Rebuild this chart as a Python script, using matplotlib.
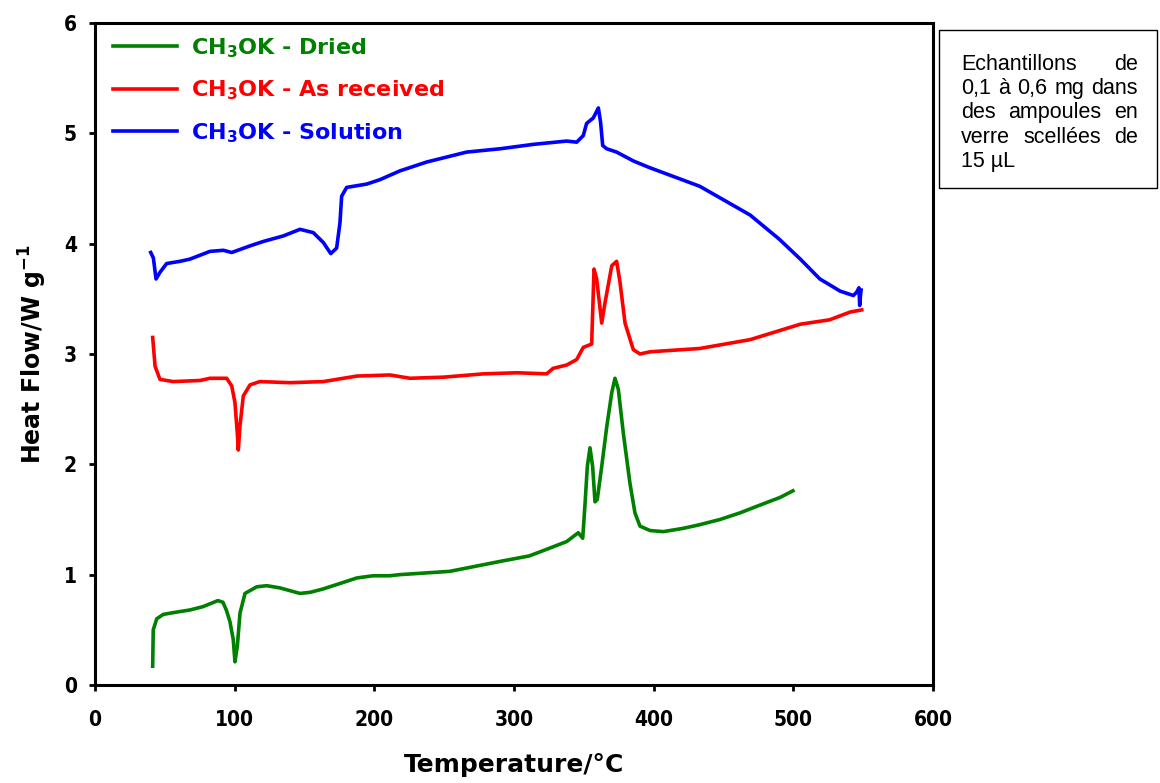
import matplotlib
matplotlib.use('Agg')
import matplotlib.pyplot as plt
from matplotlib.patches import Rectangle
from matplotlib import font_manager as fm

# ---------------- data ----------------
dried_T = [41.3, 41.7, 44.2, 48.9, 58, 68, 77.3, 88, 91.6, 94, 96.6, 99, 100.2, 101.9, 103.8,
           107.4, 115.8, 123, 132.4, 146.8, 154, 163.2, 175.4, 187.4, 199, 211, 218, 254, 290,
           311, 323.4, 337.7, 346, 349.2, 350.8, 352.5, 354.4, 356.3, 358, 359.6, 362.8, 366.4,
           370, 372.3, 374.7, 378.3, 383, 386.6, 390.2, 397.4, 406.9, 421.2, 432, 447.5, 461.8,
           476, 490.5, 499.7]
dried_V = [0.17, 0.50, 0.60, 0.64, 0.66, 0.68, 0.71, 0.765, 0.75, 0.68, 0.575, 0.41, 0.21, 0.35,
           0.65, 0.83, 0.89, 0.90, 0.88, 0.83, 0.84, 0.87, 0.92, 0.97, 0.99, 0.99, 1.00, 1.03,
           1.12, 1.17, 1.23, 1.30, 1.38, 1.33, 1.63, 1.98, 2.15, 1.98, 1.66, 1.68, 1.98, 2.34,
           2.65, 2.78, 2.68, 2.28, 1.83, 1.56, 1.44, 1.40, 1.39, 1.42, 1.45, 1.50, 1.56, 1.63,
           1.70, 1.76]

asrec_T = [41.3, 43, 46.5, 56, 75.2, 82.3, 94.3, 97.9, 100.2, 101.9, 102.6, 103.8, 106.2, 111,
           118, 139.6, 163.5, 187.4, 211.2, 225.5, 249.4, 278, 302, 323.4, 328, 337.7, 344.9,
           349.6, 355.6, 357.3, 359.2, 362.8, 365.1, 370, 373.5, 375.9, 379.5, 385.4, 390.2,
           397.4, 433, 469, 505, 526, 540.6, 549]
asrec_V = [3.15, 2.89, 2.77, 2.75, 2.76, 2.78, 2.78, 2.71, 2.56, 2.28, 2.13, 2.35, 2.62, 2.72,
           2.75, 2.74, 2.75, 2.80, 2.81, 2.78, 2.79, 2.82, 2.83, 2.82, 2.87, 2.90, 2.95, 3.06,
           3.09, 3.77, 3.68, 3.28, 3.46, 3.80, 3.84, 3.65, 3.28, 3.04, 3.00, 3.02, 3.05, 3.13,
           3.27, 3.31, 3.38, 3.40]

sol_T = [39.9, 41.8, 43.7, 46.5, 51.3, 60.9, 68, 82.3, 91.9, 97.9, 111, 120.5, 134.8, 146.8,
         156.3, 163.5, 168.8, 173, 175.4, 176.6, 180.2, 194.5, 204, 218.4, 237.5, 266.1, 290,
         313.8, 337.7, 344.9, 349.6, 352, 356.8, 360.4, 362, 363.5, 366.4, 373.5, 385.4, 396.9,
         433, 469, 490, 505, 519, 533.5, 543, 545.3, 547, 547.5, 548, 548.5]
sol_V = [3.92, 3.87, 3.68, 3.74, 3.82, 3.84, 3.86, 3.93, 3.94, 3.92, 3.98, 4.02, 4.07, 4.13,
         4.10, 4.01, 3.91, 3.96, 4.19, 4.43, 4.51, 4.54, 4.58, 4.66, 4.74, 4.83, 4.86, 4.90,
         4.93, 4.92, 4.98, 5.09, 5.14, 5.23, 5.10, 4.89, 4.86, 4.83, 4.75, 4.69, 4.52, 4.26,
         4.04, 3.86, 3.68, 3.57, 3.53, 3.56, 3.60, 3.44, 3.52, 3.58]

labels = [r'CH$_\mathbf{3}$OK - Dried', r'CH$_\mathbf{3}$OK - As received',
          r'CH$_\mathbf{3}$OK - Solution']
colors = ['#008000', '#FF0000', '#0000FF']

x_ticks = [0, 100, 200, 300, 400, 500, 600]
y_ticks = [0, 1, 2, 3, 4, 5, 6]

note_lines = ["Echantillons de", "0,1 à 0,6 mg dans", "des ampoules en",
              "verre scellées de", "15 µL"]

# ---------------- fonts ----------------
W, H = 1160, 783
plt.rcParams['mathtext.fontset'] = 'dejavusans'
cond_file = None
for f in fm.fontManager.ttflist:
    if f.name == 'DejaVu Sans' and f.stretch == 'condensed' and f.weight in (700, 'bold'):
        cond_file = f.fname
        break
if cond_file:
    tick_fp = fm.FontProperties(fname=cond_file, size=15)
else:
    tick_fp = fm.FontProperties(family='DejaVu Sans', weight='bold', size=14)

# ---------------- figure ----------------
fig = plt.figure(figsize=(W / 100, H / 100), dpi=100)
ax = fig.add_axes([95 / W, 1 - 685 / H, (933 - 95) / W, (685 - 23) / H])

for T, V, c, lab in zip([dried_T, asrec_T, sol_T], [dried_V, asrec_V, sol_V], colors, labels):
    ax.plot(T, V, color=c, lw=2.6, label=lab, solid_joinstyle='round')

ax.set_xlim(0, 600)
ax.set_ylim(0, 6)
ax.set_xticks(x_ticks)
ax.set_yticks(y_ticks)
for s in ax.spines.values():
    s.set_linewidth(2.2)
ax.tick_params(direction='out', length=4, width=2, pad=9)
ax.tick_params(axis='x', pad=14)
for lab in ax.get_xticklabels() + ax.get_yticklabels():
    lab.set_fontproperties(tick_fp)

ax.set_xlabel('Temperature/°C', fontsize=18, fontweight='bold')
ax.set_ylabel('Heat Flow/W g$^{\\mathbf{-1}}$', fontsize=17, fontweight='bold')
ax.xaxis.set_label_coords(0.5, -0.103)
ax.yaxis.set_label_coords(-0.055, 0.5)

leg = ax.legend(loc='upper left', bbox_to_anchor=(113 / W, 1 - 36 / H),
                bbox_transform=fig.transFigure, frameon=False,
                prop=dict(weight='bold', size=16), handlelength=2.9,
                handletextpad=0.6, labelspacing=0.85, borderpad=0, borderaxespad=0,
                labelcolor='linecolor')

# ---------------- note box ----------------
fig.patches.append(Rectangle((939 / W, 1 - 188 / H), (1157 - 939) / W, (188 - 30) / H,
                             transform=fig.transFigure, fill=False, edgecolor='black',
                             linewidth=1.0))
renderer = fig.canvas.get_renderer()
left_px, right_px = 961, 1138
base0, step = 70, 24.2
fprop = dict(family='Liberation Sans', fontsize=15.5)
for i, line in enumerate(note_lines):
    yb = 1 - (base0 + i * step) / H
    words = line.split()
    if i == len(note_lines) - 1 or len(words) == 1:
        fig.text(left_px / W, yb, line, va='baseline', ha='left', **fprop)
        continue
    texts = [fig.text(0, yb, w, va='baseline', ha='left', **fprop) for w in words]
    widths = [t.get_window_extent(renderer).width for t in texts]
    gap = (right_px - left_px - sum(widths)) / (len(words) - 1)
    x = left_px
    for t, w in zip(texts, widths):
        t.set_x(x / W)
        x += w + gap

fig.savefig('out.png', dpi=100)
